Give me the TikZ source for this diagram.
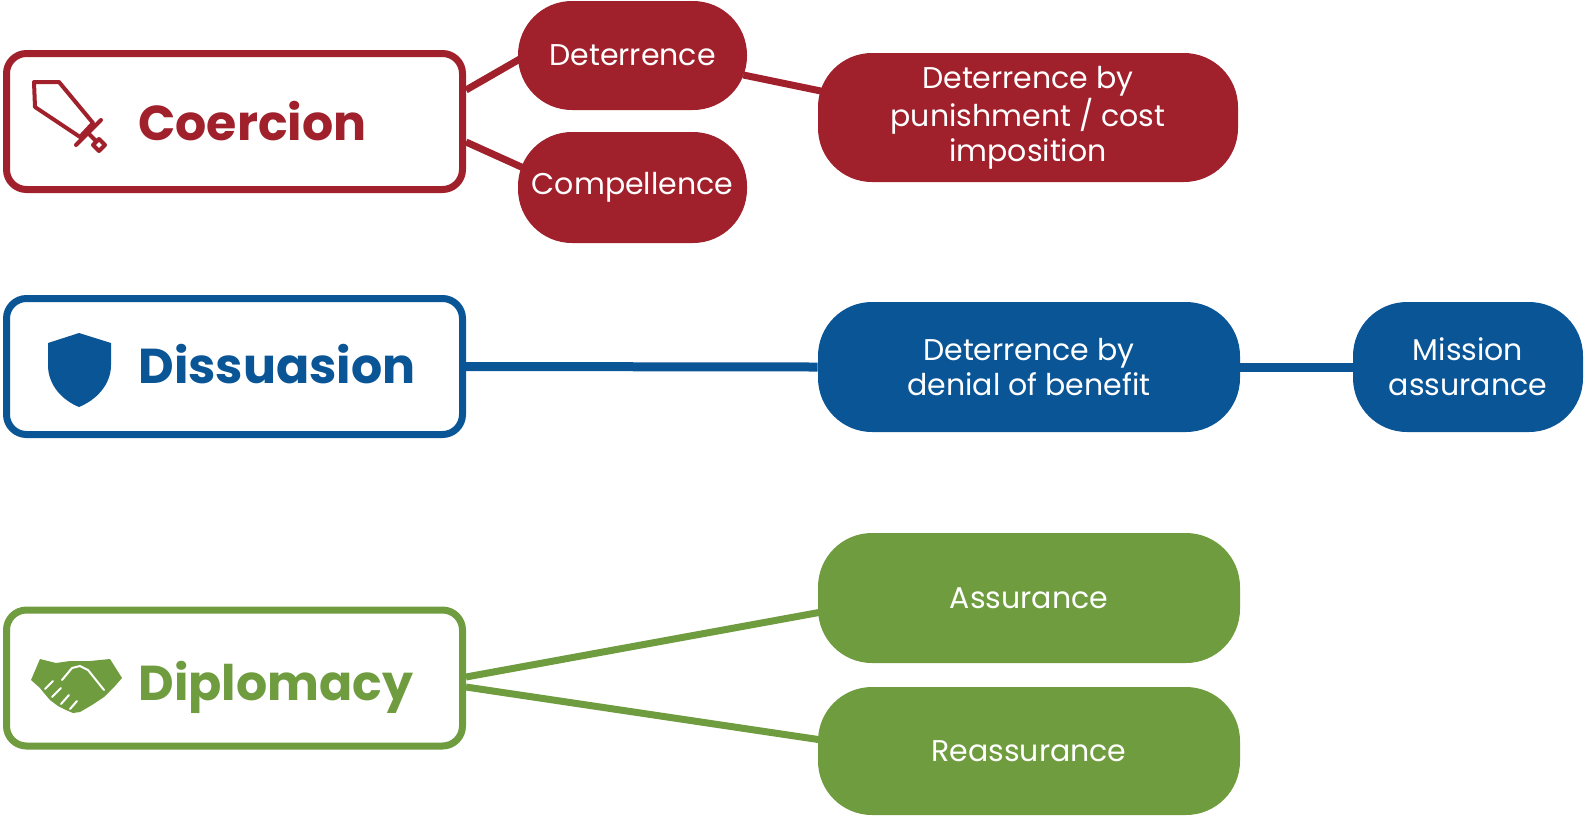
\documentclass[tikz,border=0pt]{standalone}
\usepackage{fontspec}
\setmainfont{Poppins}
\usepackage{tikz}
\usetikzlibrary{backgrounds}
\definecolor{coercered}{HTML}{A0202C}
\definecolor{dissblue}{HTML}{0A5596}
\definecolor{diplgreen}{HTML}{709C40}

\begin{document}
\begin{tikzpicture}[x = 0.5pt, y = -0.5pt,
    group/.style = {rectangle, draw = #1, fill = white, line width = 3.5pt,
      rounded corners = 10pt, minimum width = 228pt, minimum height = 68pt},
    pill/.style = {rectangle, fill = #1, text = white, rounded corners = 27pt,
      inner sep = 0pt, align = center, font = \fontsize{15}{17.5}\selectfont},
    title/.style = {anchor = base west, text = #1, inner sep = 0pt,
      font = \fontsize{24.5}{29}\selectfont\bfseries},
    link/.style = {draw = #1, line width = 3.5pt}]
  \useasboundingbox (0,0) rectangle (1585,816);

  % the three approaches
  \node[group = coercered] (coercion) at (234.5,121.5) {};
  \node[group = dissblue] (dissuasion) at (234.5,366.5) {};
  \node[group = diplgreen] (diplomacy) at (234.5,678) {};
  \node[title = coercered] (coercion-title) at (138,140) {Coercion};
  \node[title = dissblue] (dissuasion-title) at (138,383) {Dissuasion};
  \node[title = diplgreen] (diplomacy-title) at (138,700) {Diplomacy};

  % sword
  \draw[coercered, line width = 2pt, line join = round, line cap = round]
    (34,82) -- (59,82) -- (93,123) -- (80,137) -- (35,107) -- cycle
    (76,145) -- (101,120)
    (88,133) -- (96,141)
    (93,145) -- (99,139) -- (105,145) -- (99,151) -- cycle;
  % shield
  \fill[dissblue] (79,333) -- (111,343) -- (111,365)
    .. controls (111,385) and (96,400) .. (79,407)
    .. controls (62,400) and (48,385) .. (48,365) -- (48,343) -- cycle;
  % handshake
  \fill[diplgreen] (31,680) -- (40,659) -- (56,663) -- (70,661) -- (90,661)
    -- (110,659) -- (122,678) -- (115,686) -- (104,697) -- (92,705)
    -- (80,712) -- (73,713) -- (66,710) -- (58,706) -- (50,700)
    -- (44,693) -- (40,688) -- cycle;
  \draw[white, line width = 1pt, line cap = round, line join = round]
    (62,680) -- (72,668) -- (80,666) -- (88,670) -- (104,690)
    (45,689) -- (53,681)
    (52,697) -- (61,688)
    (61,704) -- (69,695)
    (70,709) -- (77,701);

  % branches
  \node[pill = coercered, minimum width = 114.5pt, minimum height = 54.5pt]
    (deterrence) at (632.5,55.5) {Deterrence};
  \node[pill = coercered, minimum width = 114.5pt, minimum height = 55.5pt]
    (compellence) at (632.5,187.5) {Compellence};
  \node[pill = coercered, minimum width = 210pt, minimum height = 64.5pt]
    (punishment) at (1028,117.5) {Deterrence by\\punishment / cost\\imposition};
  \node[pill = dissblue, minimum width = 211pt, minimum height = 65pt]
    (denial) at (1029,367) {Deterrence by\\denial of benefit};
  \node[pill = dissblue, minimum width = 115pt, minimum height = 65pt]
    (mission) at (1468,367) {Mission\\assurance};
  \node[pill = diplgreen, minimum width = 211pt, minimum height = 65pt]
    (assurance) at (1029,598) {Assurance};
  \node[pill = diplgreen, minimum width = 211pt, minimum height = 64pt]
    (reassurance) at (1029,751) {Reassurance};

  \begin{scope}[on background layer]
    \draw[link = coercered] ([yshift = 15.75pt]coercion.east)
      -- ([xshift = 2pt, yshift = -1.25pt]deterrence.west);
    \draw[link = coercered] ([yshift = -10.25pt]coercion.east)
      -- ([xshift = 3pt, yshift = 9.75pt]compellence.west);
    \draw[link = coercered] ([xshift = -2pt, yshift = -9.75pt]deterrence.east)
      -- ([xshift = 4pt, yshift = 12.75pt]punishment.west);
    \draw[link = dissblue, line width = 4.5pt] (dissuasion.east) -- (denial.west);
    \draw[link = dissblue, line width = 4.5pt] (denial.east) -- (mission.west);
    \draw[link = diplgreen] ([yshift = 0.5pt]diplomacy.east)
      -- ([xshift = 2pt, yshift = -7pt]assurance.west);
    \draw[link = diplgreen] ([yshift = -4.5pt]diplomacy.east)
      -- ([xshift = 2pt, yshift = 5.5pt]reassurance.west);
  \end{scope}
\end{tikzpicture}
\end{document}
